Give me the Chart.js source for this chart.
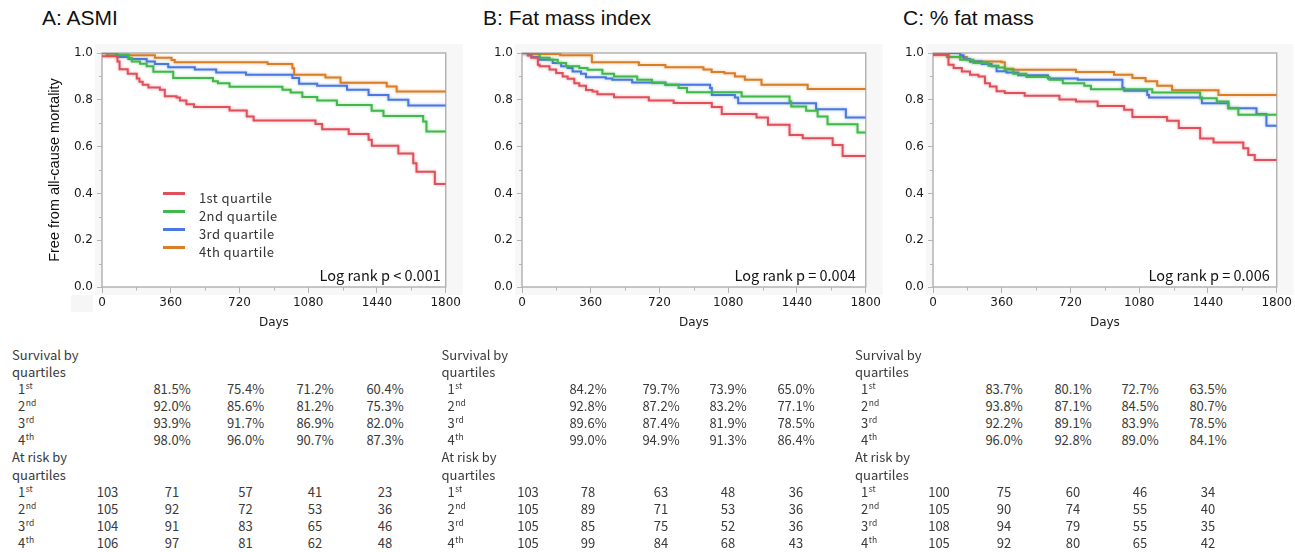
<!DOCTYPE html>
<html>
<head>
<meta charset="utf-8">
<script src="https://cdn.jsdelivr.net/npm/chart.js@4.4.0/dist/chart.umd.min.js"></script>
<style>
  html, body { margin: 0; padding: 0; background: #fff; width: 1295px; height: 552px; overflow: hidden; }
  body { position: relative; font-family: "Noto Sans CJK JP", "Noto Sans", sans-serif; color: #3a3a3a; }
  .title { position: absolute; top: 5px; font-family: "Liberation Sans", Arial, sans-serif; font-size: 21px; line-height: 26px; color: #111; white-space: nowrap; }
  .panel { position: absolute; top: 40px; width: 464px; height: 300px; }
  .cell { position: absolute; font-size: 13px; line-height: 17px; white-space: nowrap; }
  .center { transform: translateX(-50%); }
  .cell sup { font-size: 8.5px; line-height: 1; vertical-align: top; position: relative; top: 1px; margin-left: 0.5px; }
  .leg-line { position: absolute; left: 163px; width: 22px; height: 3px; }
  .leg-text { position: absolute; left: 199px; font-size: 13px; line-height: 18px; letter-spacing: 0.4px; color: #333; white-space: nowrap; }
  .stub { position: absolute; left: 71px; top: 295px; width: 22px; height: 17px; background: #f6f6f6; }
</style>
</head>
<body>

<div class="title" style="left:42px">A: ASMI</div>
<div class="title" style="left:483px">B: Fat mass index</div>
<div class="title" style="left:903px">C: % fat mass</div>
<div class="stub"></div>

<div class="panel" style="left:0px"><canvas id="chartA"></canvas></div>
<div class="panel" style="left:420px"><canvas id="chartB"></canvas></div>
<div class="panel" style="left:831px"><canvas id="chartC"></canvas></div>

<div id="legendA"></div>
<div id="tables"></div>

<script>
// Quartile names / colours
const quartileNames = ['1st quartile', '2nd quartile', '3rd quartile', '4th quartile'];
const quartileColors = ['#e0505b', '#40b84a', '#4a78e0', '#d97d27'];
const ordinals = [['1', 'st'], ['2', 'nd'], ['3', 'rd'], ['4', 'th']];

// Axis ticks
const xTickStep = 360;
const xMax = 1800;
const yTickStep = 0.2;

// ---- A: ASMI (Kaplan-Meier step points: day, survival) ----
const asmiQ1Days = [0, 81, 92, 135, 182, 196, 213, 243, 303, 329, 390, 408, 442, 482, 668, 758, 794, 1118, 1153, 1292, 1396, 1413, 1552, 1630, 1647, 1743, 1800];
const asmiQ1Surv = [0.986, 0.964, 0.931, 0.911, 0.891, 0.877, 0.864, 0.853, 0.843, 0.815, 0.810, 0.797, 0.781, 0.769, 0.754, 0.729, 0.712, 0.697, 0.674, 0.654, 0.629, 0.604, 0.571, 0.529, 0.493, 0.440, 0.440];
const asmiQ2Days = [0, 69, 139, 156, 199, 234, 269, 373, 581, 607, 668, 945, 988, 1049, 1127, 1230, 1412, 1474, 1682, 1699, 1800];
const asmiQ2Surv = [1.0, 0.993, 0.979, 0.964, 0.954, 0.943, 0.920, 0.893, 0.879, 0.871, 0.856, 0.843, 0.831, 0.812, 0.797, 0.778, 0.753, 0.731, 0.707, 0.664, 0.664];
const asmiQ3Days = [0, 78, 139, 234, 277, 347, 486, 598, 754, 997, 1032, 1127, 1283, 1396, 1500, 1604, 1800];
const asmiQ3Surv = [1.0, 0.983, 0.974, 0.964, 0.953, 0.939, 0.929, 0.917, 0.907, 0.893, 0.869, 0.860, 0.843, 0.820, 0.800, 0.776, 0.776];
const asmiQ4Days = [0, 26, 277, 364, 381, 867, 997, 1006, 1170, 1249, 1491, 1543, 1800];
const asmiQ4Surv = [1.0, 0.99, 0.98, 0.97, 0.96, 0.953, 0.935, 0.907, 0.895, 0.873, 0.857, 0.836, 0.836];

// ---- B: Fat mass index ----
const fmiQ1Days = [0, 31, 49, 83, 92, 144, 179, 213, 239, 274, 300, 335, 369, 395, 482, 664, 794, 994, 1046, 1228, 1288, 1401, 1470, 1627, 1679, 1800];
const fmiQ1Surv = [1.0, 0.99, 0.98, 0.95, 0.943, 0.929, 0.914, 0.90, 0.89, 0.871, 0.86, 0.842, 0.836, 0.824, 0.811, 0.797, 0.786, 0.769, 0.739, 0.724, 0.693, 0.650, 0.636, 0.607, 0.560, 0.560];
const fmiQ2Days = [0, 92, 144, 187, 231, 300, 343, 421, 482, 603, 681, 751, 820, 864, 1150, 1401, 1410, 1488, 1548, 1600, 1757, 1800];
const fmiQ2Surv = [1.0, 0.98, 0.971, 0.957, 0.943, 0.936, 0.928, 0.911, 0.90, 0.886, 0.872, 0.864, 0.85, 0.832, 0.814, 0.793, 0.771, 0.753, 0.729, 0.696, 0.660, 0.660];
const fmiQ3Days = [0, 31, 49, 92, 161, 205, 239, 265, 309, 335, 439, 473, 577, 751, 985, 994, 1115, 1132, 1540, 1696, 1800];
const fmiQ3Surv = [1.0, 0.99, 0.983, 0.971, 0.957, 0.943, 0.936, 0.921, 0.911, 0.896, 0.891, 0.886, 0.874, 0.864, 0.85, 0.821, 0.81, 0.785, 0.76, 0.724, 0.724];
const fmiQ4Days = [0, 40, 200, 366, 612, 751, 950, 993, 1060, 1115, 1167, 1254, 1496, 1800];
const fmiQ4Surv = [1.0, 0.996, 0.99, 0.961, 0.949, 0.939, 0.929, 0.919, 0.913, 0.90, 0.886, 0.864, 0.846, 0.846];

// ---- C: % fat mass ----
const pfmQ1Days = [0, 81, 108, 151, 194, 238, 272, 298, 333, 376, 480, 662, 749, 862, 1001, 1044, 1226, 1287, 1399, 1469, 1625, 1651, 1685, 1800];
const pfmQ1Surv = [0.993, 0.95, 0.936, 0.921, 0.907, 0.90, 0.871, 0.857, 0.837, 0.829, 0.817, 0.801, 0.793, 0.774, 0.757, 0.727, 0.711, 0.679, 0.635, 0.617, 0.593, 0.564, 0.543, 0.543];
const pfmQ2Days = [0, 73, 142, 212, 290, 343, 376, 420, 489, 610, 680, 792, 827, 1148, 1399, 1486, 1547, 1599, 1800];
const pfmQ2Surv = [1.0, 0.983, 0.971, 0.957, 0.945, 0.938, 0.929, 0.911, 0.897, 0.886, 0.871, 0.86, 0.845, 0.831, 0.807, 0.793, 0.764, 0.736, 0.736];
const pfmQ3Days = [0, 142, 160, 194, 255, 307, 333, 385, 446, 602, 758, 992, 1001, 1122, 1131, 1408, 1547, 1694, 1746, 1800];
const pfmQ3Surv = [1.0, 0.99, 0.974, 0.964, 0.953, 0.943, 0.922, 0.917, 0.905, 0.891, 0.886, 0.85, 0.839, 0.821, 0.81, 0.785, 0.764, 0.739, 0.689, 0.689];
const pfmQ4Days = [0, 81, 177, 194, 359, 376, 420, 749, 948, 1044, 1113, 1174, 1252, 1495, 1800];
const pfmQ4Surv = [0.993, 0.983, 0.971, 0.964, 0.96, 0.933, 0.928, 0.919, 0.907, 0.893, 0.879, 0.86, 0.841, 0.821, 0.821];

// ---- Tables (survival % at 360/720/1080/1440 days, at risk at 0..1440) ----
const asmiSurvPct = [[81.5, 75.4, 71.2, 60.4], [92.0, 85.6, 81.2, 75.3], [93.9, 91.7, 86.9, 82.0], [98.0, 96.0, 90.7, 87.3]];
const asmiAtRisk = [[103, 71, 57, 41, 23], [105, 92, 72, 53, 36], [104, 91, 83, 65, 46], [106, 97, 81, 62, 48]];
const fmiSurvPct = [[84.2, 79.7, 73.9, 65.0], [92.8, 87.2, 83.2, 77.1], [89.6, 87.4, 81.9, 78.5], [99.0, 94.9, 91.3, 86.4]];
const fmiAtRisk = [[103, 78, 63, 48, 36], [105, 89, 71, 53, 36], [105, 85, 75, 52, 36], [105, 99, 84, 68, 43]];
const pfmSurvPct = [[83.7, 80.1, 72.7, 63.5], [93.8, 87.1, 84.5, 80.7], [92.2, 89.1, 83.9, 78.5], [96.0, 92.8, 89.0, 84.1]];
const pfmAtRisk = [[100, 75, 60, 46, 34], [105, 90, 74, 55, 40], [108, 94, 79, 55, 35], [105, 92, 80, 65, 42]];

const logRankTexts = ['Log rank p < 0.001', 'Log rank p = 0.004', 'Log rank p = 0.006'];

// gray frame, white plot area, border, minor ticks, p-value text
const kmFrame = {
    id: 'kmFrame',
    beforeDraw(chart) {
        const {ctx, chartArea: a} = chart;
        ctx.save();
        ctx.fillStyle = '#f7f7f7';
        ctx.fillRect(a.left - 7, a.top - 9, a.right - a.left + 24, a.bottom - a.top + 17);
        ctx.fillStyle = '#fff';
        ctx.fillRect(a.left, a.top, a.right - a.left, a.bottom - a.top);
        ctx.restore();
    },
    beforeDatasetsDraw(chart) {
        const {ctx, chartArea: a} = chart;
        ctx.save();
        ctx.strokeStyle = '#b4b4b4';
        ctx.lineWidth = 1.5;
        ctx.strokeRect(a.left, a.top, a.right - a.left, a.bottom - a.top);
        ctx.restore();
    },
    beforeDatasetDraw(chart, args) {
        const ctx = chart.ctx;
        ctx.save();
        ctx.shadowColor = args.meta.dataset.options.borderColor + '88';
        ctx.shadowBlur = 3;
    },
    afterDatasetDraw(chart) {
        chart.ctx.restore();
    },
    afterDraw(chart, args, opts) {
        const {ctx, chartArea: a, scales} = chart;
        ctx.save();
        ctx.strokeStyle = '#b4b4b4';
        ctx.lineWidth = 1;
        // minor ticks halfway between major ticks
        const xt = scales.x.ticks;
        for (let i = 0; i < xt.length - 1; i++) {
            const px = Math.round(scales.x.getPixelForValue((xt[i].value + xt[i + 1].value) / 2)) + 0.5;
            ctx.beginPath(); ctx.moveTo(px, a.bottom); ctx.lineTo(px, a.bottom + 3.5); ctx.stroke();
        }
        const yt = scales.y.ticks;
        for (let i = 0; i < yt.length - 1; i++) {
            const py = Math.round(scales.y.getPixelForValue((yt[i].value + yt[i + 1].value) / 2)) + 0.5;
            ctx.beginPath(); ctx.moveTo(a.left, py); ctx.lineTo(a.left - 3, py); ctx.stroke();
        }
        // log rank p
        ctx.fillStyle = '#111';
        ctx.font = '14.5px "Noto Sans CJK JP", "Noto Sans", sans-serif';
        ctx.textAlign = 'right';
        ctx.textBaseline = 'middle';
        ctx.fillText(opts.text, a.right - opts.dx, a.bottom - 12);
        ctx.restore();
    }
};

function makeSeries(daysList, survList) {
    return daysList.map((days, q) => ({
        label: quartileNames[q],
        data: days.map((d, i) => ({x: d, y: survList[q][i]})),
        stepped: true,
        borderColor: quartileColors[q],
        borderWidth: 2,
        pointRadius: 0,
        fill: false
    }));
}

function drawPanel(canvasId, datasets, opts) {
    const ctx = document.getElementById(canvasId).getContext('2d');
    return new Chart(ctx, {
        type: 'line',
        data: {datasets: datasets},
        options: {
            responsive: false,
            animation: false,
            layout: {padding: {left: 46.6, right: 16, top: 13, bottom: 10}},
            plugins: {
                legend: {display: false},
                tooltip: {enabled: false},
                kmFrame: {text: opts.pText, dx: opts.pDx}
            },
            scales: {
                x: {
                    type: 'linear', min: 0, max: xMax,
                    ticks: {stepSize: xTickStep, autoSkip: false, maxRotation: 0, padding: 3, color: '#1a1a1a',
                            callback: v => String(v),
                            font: {family: 'DejaVu Sans', size: 12}},
                    grid: {drawOnChartArea: false, drawTicks: true, tickLength: 6, tickColor: '#b4b4b4'},
                    border: {display: false},
                    title: {display: true, text: 'Days', color: '#1a1a1a', padding: 0,
                            font: {family: 'DejaVu Sans', size: 12}},
                    afterFit: s => { s.height = 43; }
                },
                y: {
                    type: 'linear', min: 0, max: 1,
                    ticks: {stepSize: yTickStep, padding: 4, color: '#1a1a1a', callback: v => v.toFixed(1),
                            font: {family: 'DejaVu Sans', size: 12}},
                    grid: {drawOnChartArea: false, drawTicks: true, tickLength: 5, tickColor: '#b4b4b4'},
                    border: {display: false},
                    title: {display: opts.yTitle, text: 'Free from all-cause mortality', color: '#111', padding: 0,
                            font: {family: 'Liberation Sans', size: 14.5}},
                    afterFit: s => { s.width = 55.4; }
                }
            }
        },
        plugins: [kmFrame]
    });
}

function sizeCanvas(id) {
    const c = document.getElementById(id);
    c.width = 464; c.height = 300;
    c.style.width = '464px'; c.style.height = '300px';
}

function buildLegend() {
    const box = document.getElementById('legendA');
    quartileNames.forEach((name, i) => {
        const line = document.createElement('div');
        line.className = 'leg-line';
        line.style.top = (191.5 + i * 18) + 'px';
        line.style.background = quartileColors[i];
        box.appendChild(line);
        const txt = document.createElement('div');
        txt.className = 'leg-text';
        txt.style.top = (188.5 + i * 18) + 'px';
        txt.textContent = name;
        box.appendChild(txt);
    });
}

function addCell(parent, html, left, top, centered) {
    const el = document.createElement('div');
    el.className = 'cell' + (centered ? ' center' : '');
    el.style.left = left + 'px';
    el.style.top = top + 'px';
    el.innerHTML = html;
    parent.appendChild(el);
}

function buildTable(x0, cols, survPct, atRisk) {
    const box = document.getElementById('tables');
    const rowTop = i => 354 + i * 17.15 - 8.5;
    addCell(box, 'Survival by', x0, rowTop(0));
    addCell(box, 'quartiles', x0, rowTop(1));
    survPct.forEach((row, q) => {
        addCell(box, ordinals[q][0] + '<sup>' + ordinals[q][1] + '</sup>', x0 + 6, rowTop(2 + q));
        row.forEach((v, j) => addCell(box, v.toFixed(1) + '%', cols[j + 1], rowTop(2 + q), true));
    });
    addCell(box, 'At risk by', x0, rowTop(6));
    addCell(box, 'quartiles', x0, rowTop(7));
    atRisk.forEach((row, q) => {
        addCell(box, ordinals[q][0] + '<sup>' + ordinals[q][1] + '</sup>', x0 + 6, rowTop(8 + q));
        row.forEach((v, j) => addCell(box, String(v), cols[j], rowTop(8 + q), true));
    });
}

function init() {
    ['chartA', 'chartB', 'chartC'].forEach(sizeCanvas);

    drawPanel('chartA', makeSeries([asmiQ1Days, asmiQ2Days, asmiQ3Days, asmiQ4Days], [asmiQ1Surv, asmiQ2Surv, asmiQ3Surv, asmiQ4Surv]),
        {pText: logRankTexts[0], pDx: 5, yTitle: true});
    drawPanel('chartB', makeSeries([fmiQ1Days, fmiQ2Days, fmiQ3Days, fmiQ4Days], [fmiQ1Surv, fmiQ2Surv, fmiQ3Surv, fmiQ4Surv]),
        {pText: logRankTexts[1], pDx: 10, yTitle: false});
    drawPanel('chartC', makeSeries([pfmQ1Days, pfmQ2Days, pfmQ3Days, pfmQ4Days], [pfmQ1Surv, pfmQ2Surv, pfmQ3Surv, pfmQ4Surv]),
        {pText: logRankTexts[2], pDx: 7, yTitle: false});

    buildLegend();
    buildTable(12, [107.5, 172, 245.5, 315, 385], asmiSurvPct, asmiAtRisk);
    buildTable(441.5, [528, 588, 661, 728, 796], fmiSurvPct, fmiAtRisk);
    buildTable(855, [939, 1004, 1073, 1140, 1208], pfmSurvPct, pfmAtRisk);
}

init();
</script>
</body>
</html>
